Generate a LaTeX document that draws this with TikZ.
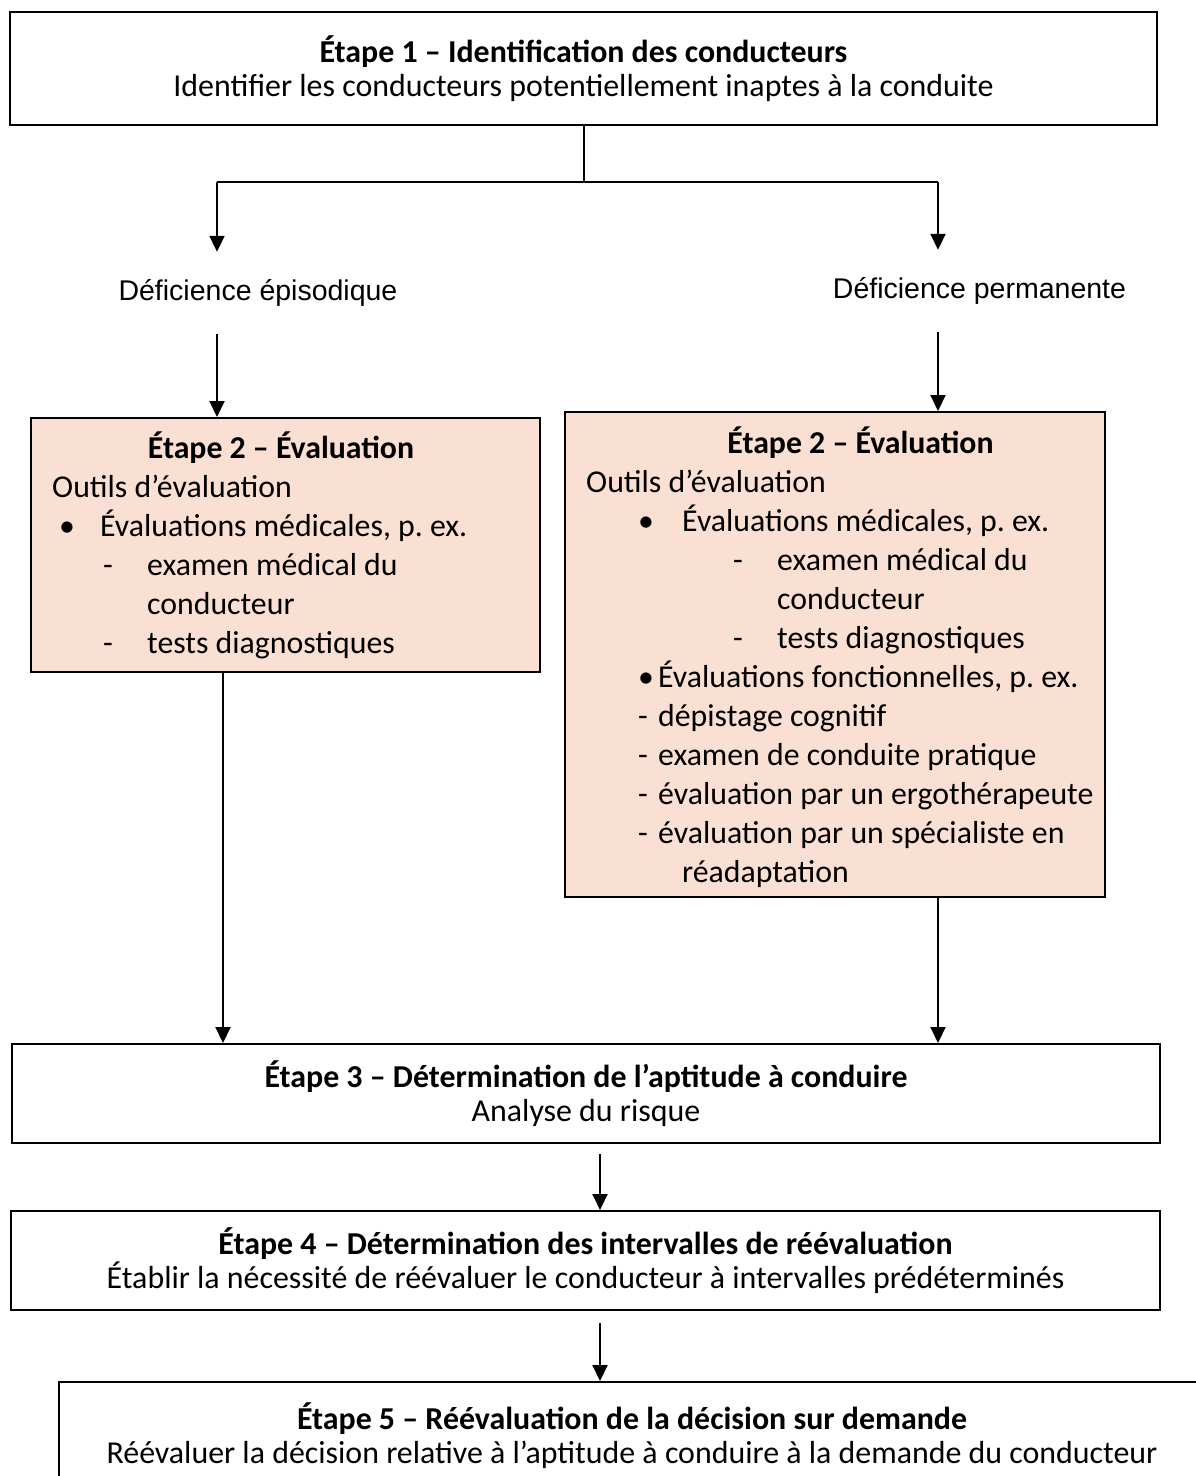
\documentclass[tikz,border=0pt]{standalone}
\usepackage{fontspec}
\setmainfont{Carlito}
\newfontfamily\arialfont{Liberation Sans}
\usetikzlibrary{arrows.meta}
\definecolor{peach}{HTML}{FADFD3}
\frenchspacing

\begin{document}
\begin{tikzpicture}[x=1pt,y=-1pt,
  stepbox/.style={draw=black, line width=2pt, inner sep=0pt, align=center,
    font=\fontsize{31.9}{34}\selectfont},
  evalbox/.style={draw=black, line width=2pt, fill=peach, inner sep=0pt},
  txt/.style={inner sep=0pt, anchor=base west, font=\fontsize{31.8}{39}\selectfont},
  ttl/.style={inner sep=0pt, anchor=base, font=\fontsize{31.8}{39}\selectfont\bfseries},
  lab/.style={inner sep=0pt, minimum height=82pt, font=\arialfont\fontsize{28.5}{34}\selectfont},
  line/.style={line width=2pt},
  arr/.style={line width=2pt, -{Triangle[width=15pt,length=16pt]}}]
  \useasboundingbox (0,0) rectangle (1195,1476);

  % Step 1
  \node[stepbox, minimum width=1147pt, minimum height=113pt] (box1) at (583.5,68.5)
    {\textbf{Étape 1 – Identification des conducteurs}\\Identifier les conducteurs potentiellement inaptes à la conduite};

  % Split into the two kinds of impairment
  \coordinate (barL) at (217,182);
  \coordinate (barR) at (938,182);
  \node[lab] (labL) at (258,293) {Déficience épisodique};
  \node[lab] (labR) at (979.5,291) {Déficience permanente};

  % Step 2, episodic
  \node[evalbox, minimum width=509pt, minimum height=254pt] (box2l) at (285.5,545) {};
  \node[ttl] (t2l) at (281,458) {Étape 2 – Évaluation};
  \node[txt] (l2a) at (52,497) {Outils d’évaluation};
  \node[txt] (l2b) at (59,536) {\makebox[41pt][l]{•}Évaluations médicales, p. ex.};
  \node[txt] (l2c) at (103,575) {\makebox[44pt][l]{-}examen médical du};
  \node[txt] (l2d) at (147,614) {conducteur};
  \node[txt] (l2e) at (103,653) {\makebox[44pt][l]{-}tests diagnostiques};

  % Step 2, permanent
  \node[evalbox, minimum width=540pt, minimum height=485pt] (box2r) at (835,654.5) {};
  \node[ttl] (t2r) at (860.5,453) {Étape 2 – Évaluation};
  \node[txt] (r2a) at (586,492) {Outils d’évaluation};
  \node[txt] (r2b) at (638,531) {\makebox[44pt][l]{•}Évaluations médicales, p. ex.};
  \node[txt] (r2c) at (733,570) {\makebox[44pt][l]{-}examen médical du};
  \node[txt] (r2d) at (777,609) {conducteur};
  \node[txt] (r2e) at (733,648) {\makebox[44pt][l]{-}tests diagnostiques};
  \node[txt] (r2f) at (638,687) {\makebox[20pt][l]{•}Évaluations fonctionnelles, p. ex.};
  \node[txt] (r2g) at (638,726) {\makebox[20pt][l]{-}dépistage cognitif};
  \node[txt] (r2h) at (638,765) {\makebox[20pt][l]{-}examen de conduite pratique};
  \node[txt] (r2i) at (638,804) {\makebox[20pt][l]{-}évaluation par un ergothérapeute};
  \node[txt] (r2j) at (638,843) {\makebox[20pt][l]{-}évaluation par un spécialiste en};
  \node[txt] (r2k) at (682,882) {réadaptation};

  % Steps 3 to 5
  \node[stepbox, minimum width=1148pt, minimum height=99pt] (box3) at (586,1093.5)
    {\textbf{Étape 3 – Détermination de l’aptitude à conduire}\\Analyse du risque};
  \node[stepbox, minimum width=1149pt, minimum height=99pt] (box4) at (585.5,1260.5)
    {\textbf{Étape 4 – Détermination des intervalles de réévaluation}\\Établir la nécessité de réévaluer le conducteur à intervalles prédéterminés};
  \node[stepbox, minimum width=1146pt, minimum height=107pt] (box5) at (632,1435.5)
    {\textbf{Étape 5 – Réévaluation de la décision sur demande}\\Réévaluer la décision relative à l’aptitude à conduire à la demande du conducteur};
  \coordinate (dropL) at (223,0);
  \coordinate (dropM) at (600,0);

  % Connectors
  \draw[line] (box1.south) -- (box1.south |- barL);
  \draw[line] (barL) -- (barR);
  \draw[arr] (barL) -- (barL |- labL.north);
  \draw[arr] (barR) -- (barR |- labR.north);
  \draw[arr] (labL.south -| barL) -- (barL |- box2l.north);
  \draw[arr] (labR.south -| barR) -- (barR |- box2r.north);
  \draw[arr] (box2l.south -| dropL) -- (dropL |- box3.north);
  \draw[arr] (box2r.south -| barR) -- (barR |- box3.north);
  \draw[arr, shorten <=10pt] (box3.south -| dropM) -- (dropM |- box4.north);
  \draw[arr, shorten <=12pt] (box4.south -| dropM) -- (dropM |- box5.north);
\end{tikzpicture}
\end{document}
